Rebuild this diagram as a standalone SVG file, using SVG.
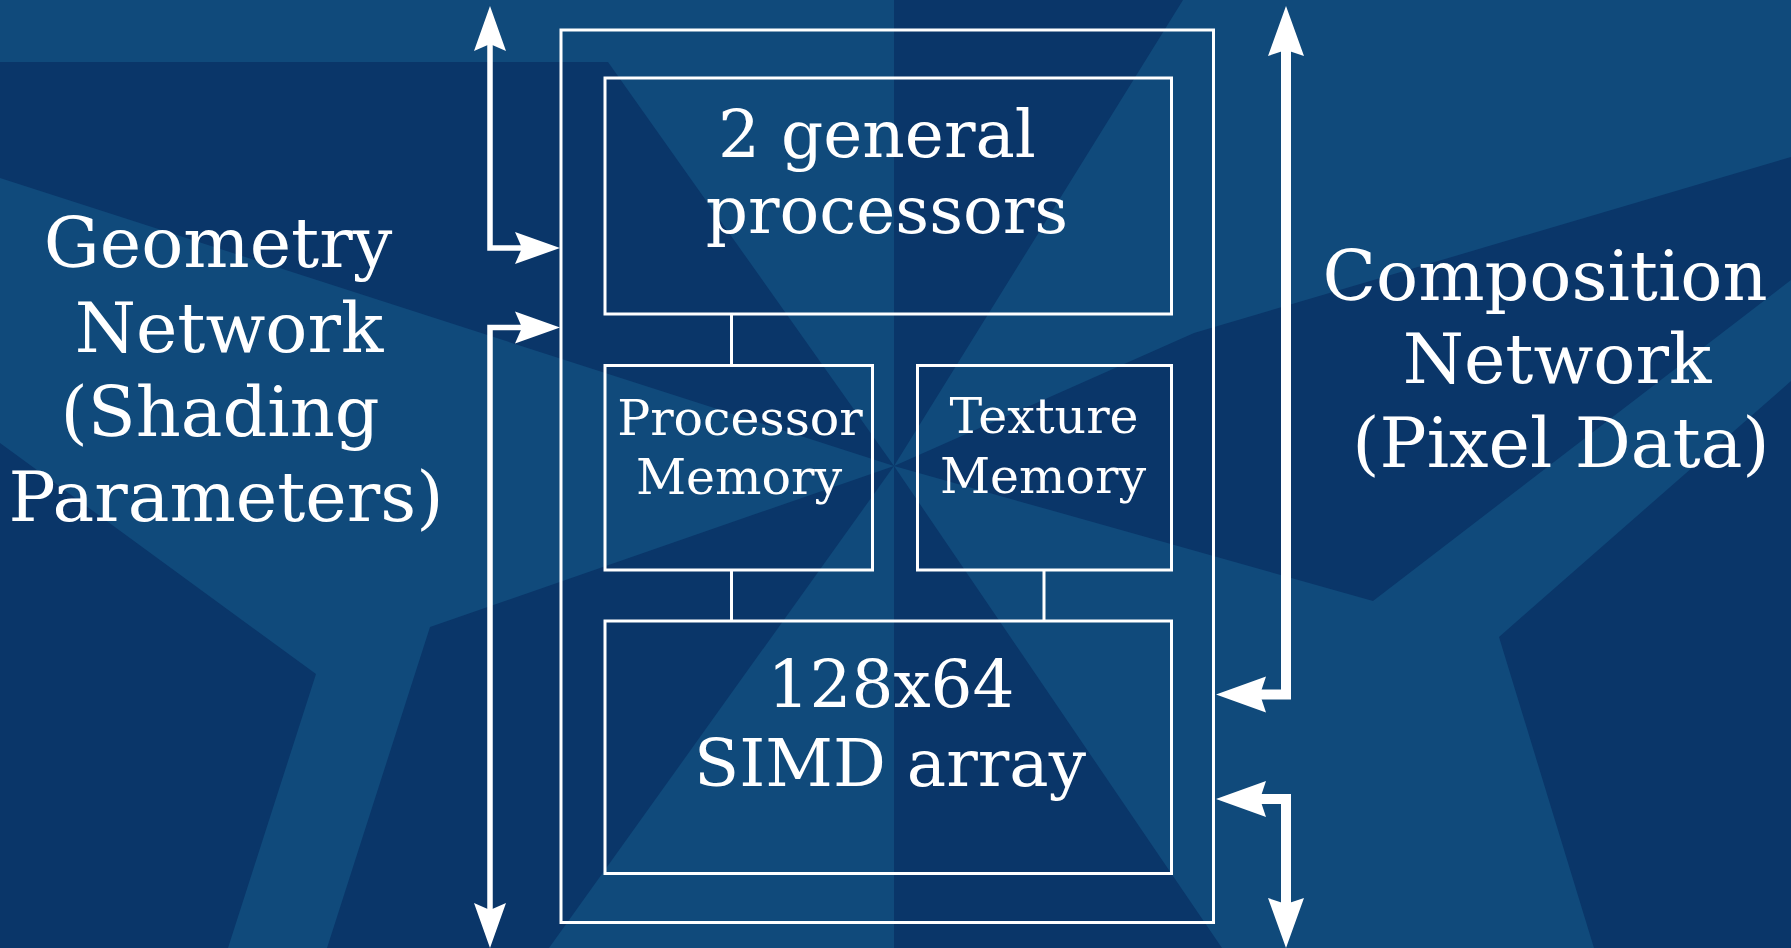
<svg xmlns="http://www.w3.org/2000/svg" xmlns:xlink="http://www.w3.org/1999/xlink" width="1791" height="948" viewBox="0 0 1791 948">
<style>
.bg{fill:#0a3669}
.lt{fill:#104a7b}
.box{fill:none;stroke:#ffffff;stroke-width:3}
.link{fill:none;stroke:#ffffff;stroke-width:3}
.thin{fill:none;stroke:#ffffff;stroke-width:5.5;stroke-linejoin:miter}
.thick{fill:none;stroke:#ffffff;stroke-width:10;stroke-linejoin:miter}
.head{fill:#ffffff}
text{font-family:"DejaVu Serif","Liberation Serif",serif;fill:#ffffff;text-anchor:middle}
.lab{font-size:70px}
.big{font-size:66px}
.sm{font-size:49px}
</style>
<defs>
<path id="hs" d="M0,0 L-45,-16 L-38,0 L-45,16 Z"/>
<path id="hb" d="M0,0 L-50,-18 L-44,0 L-50,18 Z"/>
</defs>
<g id="background">
<rect class="bg" x="0" y="0" width="1791" height="948"/>
<polygon class="lt" points="0,0 894,0 894,466 608,62 0,62"/>
<polygon class="lt" points="1183,0 1791,0 1791,157 1194,333 894,466"/>
<polygon class="lt" points="894,466 0,178 0,443 316,674 228,948 327,948 430,627"/>
<polygon class="lt" points="894,466 549,948 894,948"/>
<polygon class="lt" points="894,466 1373,601 1791,280 1791,381 1499,637 1594,948 1222,948"/>
</g>
<g id="label-left">
<text class="lab" x="218" y="267">Geometry</text>
<text class="lab" x="229" y="352">Network</text>
<text class="lab" x="220" y="436">(Shading</text>
<text class="lab" x="226" y="521">Parameters)</text>
</g>
<g id="label-right">
<text class="lab" x="1545" y="300">Composition</text>
<text class="lab" x="1557" y="383">Network</text>
<text class="lab" x="1561" y="467">(Pixel Data)</text>
</g>
<g id="node-outer">
<rect class="box" x="561" y="30" width="652.5" height="892.5"/>
</g>
<g id="node-general">
<rect class="box" x="605" y="78" width="566.5" height="236"/>
<text class="big" x="877" y="157">2 general</text>
<text class="big" x="887" y="233">processors</text>
</g>
<g id="node-procmem">
<rect class="box" x="605" y="365.5" width="267.5" height="204.5"/>
<text class="sm" x="740" y="435">Processor</text>
<text class="sm" x="739" y="494">Memory</text>
</g>
<g id="node-texmem">
<rect class="box" x="917.5" y="365.5" width="254" height="204.5"/>
<text class="sm" x="1044" y="433">Texture</text>
<text class="sm" x="1043" y="493">Memory</text>
</g>
<g id="node-simd">
<rect class="box" x="605" y="621" width="566.5" height="252.5"/>
<text class="big" x="891" y="707">128x64</text>
<text class="big" x="890" y="786">SIMD array</text>
</g>
<g id="connectors">
<line class="link" x1="731.5" y1="314" x2="731.5" y2="365.5"/>
<line class="link" x1="731.5" y1="570" x2="731.5" y2="621"/>
<line class="link" x1="1044" y1="570" x2="1044" y2="621"/>
<path class="thin" d="M490,44 V248 H523"/>
<use href="#hs" xlink:href="#hs" class="head" transform="translate(490,6) rotate(-90)"/>
<use href="#hs" xlink:href="#hs" class="head" transform="translate(560,248)"/>
<path class="thin" d="M523,327.5 H490 V910"/>
<use href="#hs" xlink:href="#hs" class="head" transform="translate(560,327.5)"/>
<use href="#hs" xlink:href="#hs" class="head" transform="translate(490,948) rotate(90)"/>
<path class="thick" d="M1286,50 V694.5 H1259"/>
<use href="#hb" xlink:href="#hb" class="head" transform="translate(1286,6) rotate(-90)"/>
<use href="#hb" xlink:href="#hb" class="head" transform="translate(1216,694.5) rotate(180)"/>
<path class="thick" d="M1259,799 H1286 V905"/>
<use href="#hb" xlink:href="#hb" class="head" transform="translate(1216,799) rotate(180)"/>
<use href="#hb" xlink:href="#hb" class="head" transform="translate(1286,948) rotate(90)"/>
</g>
</svg>
